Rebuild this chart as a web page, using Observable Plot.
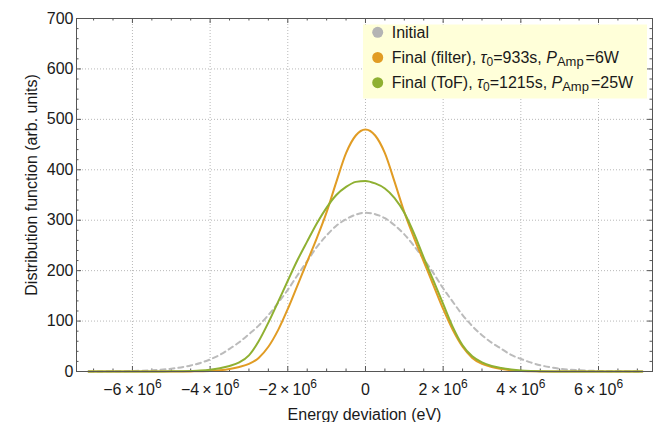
<!DOCTYPE html>
<html>
<head>
<meta charset="utf-8">
<script src="https://cdn.jsdelivr.net/npm/d3@7"></script>
<script src="https://cdn.jsdelivr.net/npm/@observablehq/plot@0.6"></script>
<style>
  body { margin: 0; background: #fff; }
  #wrap { width: 660px; height: 422px; }
</style>
</head>
<body>
<div id="wrap"></div>
<script>
// ---- Data ----
const energy = [-7.13e6, -6.5e6, -6e6, -5.5e6, -5e6,
  -4.5e6, -4.25e6, -4e6, -3.75e6, -3.5e6, -3.25e6, -3e6, -2.75e6, -2.5e6, -2.25e6, -2e6, -1.75e6,
  -1.5e6, -1.25e6, -1e6, -0.75e6, -0.5e6, -0.25e6, 0,
  0.25e6, 0.5e6, 0.75e6, 1e6, 1.25e6, 1.5e6, 1.75e6, 2e6, 2.25e6, 2.5e6, 2.75e6, 3e6, 3.25e6,
  3.5e6, 3.75e6, 4e6, 4.25e6, 4.5e6, 5e6, 5.5e6, 6e6, 6.5e6, 7.13e6];

const initial = [0.1, 0.4, 1, 2.4, 5.5,
  12, 17, 24, 33, 45, 58, 74, 91, 112, 136, 162, 191,
  219, 247, 270, 289, 302, 311, 315,
  312, 304, 290, 272, 249, 223, 195, 165, 138, 112, 90, 72, 57,
  45, 33, 25, 18, 12.5, 5.5, 2.4, 1, 0.4, 0.1];

const finalFilter = [0, 0, 0, 0, 0.05,
  0.2, 0.5, 1, 2.5, 5, 9, 15, 27, 49, 82, 124, 171,
  218, 265, 316, 376, 433, 468, 480,
  468, 433, 376, 316, 265, 218, 171, 124, 82, 49, 27, 15, 9,
  5, 2.5, 1, 0.5, 0.2, 0.05, 0, 0, 0, 0];

const finalToF = [0, 0, 0, 0.1, 0.3,
  1, 1.8, 3.5, 6.5, 11, 18, 32, 60, 97, 138, 180, 221,
  258, 294, 325, 350, 366, 376, 378,
  373, 363, 344, 315, 274, 226, 180, 134, 88, 52, 30, 18, 11,
  7, 4, 2, 1, 0.5, 0.1, 0, 0, 0, 0];

const seriesNames = ["Initial", "Final (filter)", "Final (ToF)"];
const seriesTau = [null, "933s", "1215s"];
const seriesPower = [null, "6W", "25W"];
const xTickValues = [-6e6, -4e6, -2e6, 0, 2e6, 4e6, 6e6];
const yTickValues = [0, 100, 200, 300, 400, 500, 600, 700];

// ---- Styles ----
const FONT = "'Liberation Sans', Arial, sans-serif";
const colors = ["#BBBBBB", "#E19C24", "#8FB032"];
const legendColors = ["#B4B4B4", "#E19C24", "#8FB032"];
const frameColor = "#555555";
const gridColor = "#B8B8B8";

const rows = [];
[initial, finalFilter, finalToF].forEach((vals, s) => {
  energy.forEach((e, i) => rows.push({E: e, v: vals[i], series: seriesNames[s]}));
});

const xMinor = d3.range(-7e6, 7.01e6, 5e5).filter(d => Math.abs(d % 2e6) > 1);
const yMinor = d3.range(0, 701, 20).filter(d => d % 100 !== 0);

const W = 660, H = 422, mL = 76, mR = 8, mT = 18, mB = 51;
const fw = W - mL - mR, fh = H - mT - mB;

const fmtX = d => d === 0 ? "0" : `${d < 0 ? "\u2212" : ""}${Math.abs(d) / 1e6}\u2009\u00d7\u200910^6`;

const chart = Plot.plot({
  width: W, height: H,
  marginLeft: mL, marginRight: mR, marginTop: mT, marginBottom: mB,
  x: {domain: [-7.44e6, 7.39e6]},
  y: {domain: [0, 700]},
  color: {domain: seriesNames, range: colors},
  style: {fontFamily: FONT, fontSize: "16px", color: "#1a1a1a", background: "#fff"},
  marks: [
    Plot.gridX(xTickValues, {stroke: gridColor, strokeOpacity: 1, strokeDasharray: "1,2"}),
    Plot.gridY(yTickValues.filter(d => d > 0 && d < 700), {stroke: gridColor, strokeOpacity: 1, strokeDasharray: "1,2"}),
    // inward frame ticks
    Plot.tickX(xTickValues, {stroke: frameColor, insetTop: fh - 5}),
    Plot.tickX(xMinor, {stroke: frameColor, insetTop: fh - 2.5}),
    Plot.tickX(xTickValues, {stroke: frameColor, insetBottom: fh - 5}),
    Plot.tickX(xMinor, {stroke: frameColor, insetBottom: fh - 2.5}),
    Plot.tickY(yTickValues, {stroke: frameColor, insetRight: fw - 5}),
    Plot.tickY(yMinor, {stroke: frameColor, insetRight: fw - 2.5}),
    Plot.tickY(yTickValues, {stroke: frameColor, insetLeft: fw - 5}),
    Plot.tickY(yMinor, {stroke: frameColor, insetLeft: fw - 2.5}),
    // curves
    Plot.line(rows.filter(d => d.series === seriesNames[0]), {x: "E", y: "v", stroke: "series", strokeWidth: 2, strokeDasharray: "5,4", curve: "monotone-x"}),
    Plot.line(rows.filter(d => d.series === seriesNames[1]), {x: "E", y: "v", stroke: "series", strokeWidth: 2, curve: "monotone-x"}),
    Plot.line(rows.filter(d => d.series === seriesNames[2]), {x: "E", y: "v", stroke: "series", strokeWidth: 2, curve: "monotone-x"}),
    Plot.frame({stroke: frameColor}),
    Plot.axisX(xTickValues, {anchor: "bottom", tickSize: 0, tickPadding: 12, tickFormat: fmtX, fontSize: 16, label: null}),
    Plot.axisY(yTickValues, {anchor: "left", tickSize: 0, tickPadding: 3, fontSize: 16, label: null}),
    Plot.text(["Energy deviation (eV)"], {frameAnchor: "bottom", dy: 43.5, lineAnchor: "middle", textAnchor: "middle", fontSize: 16}),
    Plot.text(["Distribution function (arb. units)"], {frameAnchor: "left", rotate: -90, dx: -44.6, dy: -10, lineAnchor: "middle", textAnchor: "middle", fontSize: 16})
  ]
});

const svg = d3.select(chart);

// superscripts in tick labels
svg.selectAll("text").each(function () {
  const s = this.textContent;
  if (s.includes("^")) {
    const [b, e] = s.split("^");
    this.textContent = b;
    d3.select(this).append("tspan").attr("dy", -7).attr("font-size", 12).text(e);
  }
});

// legend
const lg = svg.append("g").attr("font-family", FONT).attr("font-size", 16).attr("fill", "#1a1a1a")
  .attr("text-anchor", "start").style("white-space", "pre");
lg.append("rect").attr("x", 363).attr("y", 24.5).attr("width", 284).attr("height", 74).attr("fill", "#FFFFD9");
seriesNames.forEach((name, i) => {
  const cy = 32.3 + i * 25.2;
  lg.append("circle").attr("cx", 377.7).attr("cy", cy).attr("r", 5.5).attr("fill", legendColors[i]);
  const t = lg.append("text").attr("x", 391.7).attr("y", cy + 5.5);
  if (!seriesTau[i]) { t.text(name); return; }
  t.append("tspan").text(name + ", ");
  t.append("tspan").attr("font-style", "italic").text("\u03c4");
  t.append("tspan").attr("font-size", 12).attr("dy", 3).text("0");
  t.append("tspan").attr("dy", -3).text("=" + seriesTau[i] + ", ");
  t.append("tspan").attr("font-style", "italic").text("P");
  t.append("tspan").attr("font-size", 13).attr("dy", 3).text("Amp");
  t.append("tspan").attr("dy", -3).attr("dx", 2).text("=" + seriesPower[i]);
});

document.getElementById("wrap").appendChild(chart);
</script>
</body>
</html>
